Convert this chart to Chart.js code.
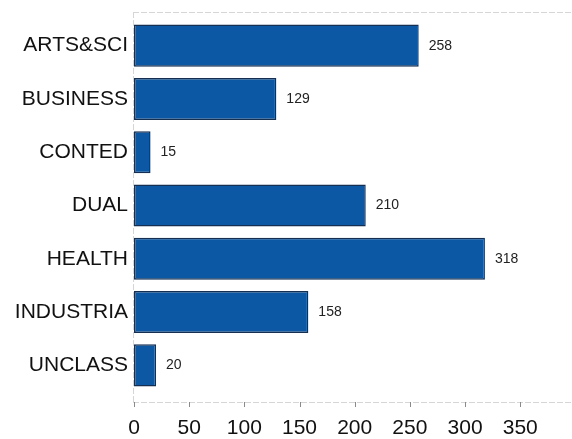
<!DOCTYPE html>
<html lang="en">
<head>
<meta charset="UTF-8">
<title>Enrollment by Division</title>
<script src="https://cdn.jsdelivr.net/npm/chart.js@4"></script>
<style>
    html, body { margin: 0; padding: 0; background: #ffffff; }
    #wrap { width: 572px; height: 439px; position: relative; }
</style>
</head>
<body>
<div id="wrap"><canvas id="divChart"></canvas></div>
<script>
    // data
    const divisions = ['ARTS&SCI', 'BUSINESS', 'CONTED', 'DUAL', 'HEALTH', 'INDUSTRIA', 'UNCLASS'];
    const counts = [258, 129, 15, 210, 318, 158, 20];
    const xTicks = [0, 50, 100, 150, 200, 250, 300, 350];
    const xMax = 396;

    const barBlue = '#0c58a4';
    const barEdge = '#142f52';

    // frame: faint top line, y axis line, bottom axis with short tick marks
    const framePlugin = {
        id: 'frame',
        afterDraw(chart) {
            const ctx = chart.ctx;
            const a = chart.chartArea;
            const xs = chart.scales.x;
            const top = a.top - 7, bottom = a.bottom + 10, left = a.left - 1;
            ctx.save();
            ctx.lineWidth = 1;
            ctx.strokeStyle = '#d6d6d6';
            ctx.setLineDash([6, 2]);
            ctx.beginPath();
            ctx.moveTo(left, top + 0.5); ctx.lineTo(a.right, top + 0.5);
            ctx.moveTo(left + 0.5, top); ctx.lineTo(left + 0.5, bottom);
            ctx.moveTo(left, bottom + 0.5); ctx.lineTo(a.right, bottom + 0.5);
            ctx.stroke();
            ctx.setLineDash([]);
            ctx.strokeStyle = '#8a8a8a';
            ctx.beginPath();
            xTicks.forEach(v => {
                const px = Math.round(xs.getPixelForValue(v)) + 0.5;
                ctx.moveTo(px, bottom); ctx.lineTo(px, bottom + 5);
            });
            ctx.stroke();
            ctx.restore();
        }
    };

    // value labels at the end of each bar
    const valuePlugin = {
        id: 'values',
        afterDatasetsDraw(chart) {
            const ctx = chart.ctx;
            const meta = chart.getDatasetMeta(0);
            ctx.save();
            ctx.font = '14px "Liberation Sans", Arial, sans-serif';
            ctx.fillStyle = '#222222';
            ctx.textAlign = 'left';
            ctx.textBaseline = 'middle';
            meta.data.forEach((bar, i) => {
                ctx.fillText(String(counts[i]), bar.x + 10, bar.y);
            });
            ctx.restore();
        }
    };

    const ctx = document.getElementById('divChart').getContext('2d');
    new Chart(ctx, {
        type: 'bar',
        data: {
            labels: divisions,
            datasets: [{
                data: counts,
                backgroundColor: barBlue,
                borderColor: barEdge,
                borderWidth: 1.5,
                borderSkipped: false,
                categoryPercentage: 1,
                barPercentage: 0.79
            }]
        },
        options: {
            indexAxis: 'y',
            responsive: true,
            maintainAspectRatio: false,
            animation: false,
            layout: { padding: { top: 19, right: 1, left: 0, bottom: 0 } },
            plugins: {
                legend: { display: false },
                tooltip: { enabled: false }
            },
            scales: {
                x: {
                    min: 0,
                    max: xMax,
                    grid: { display: false },
                    border: { display: false },
                    afterBuildTicks(scale) {
                        scale.ticks = xTicks.map(v => ({ value: v }));
                    },
                    afterFit(scale) { scale.height = 47; },
                    ticks: {
                        padding: 16,
                        color: '#111111',
                        maxRotation: 0,
                        font: { family: '"Liberation Sans", Arial, sans-serif', size: 21 }
                    }
                },
                y: {
                    grid: { display: false },
                    border: { display: false },
                    afterFit(scale) { scale.width = 134; },
                    ticks: {
                        padding: -2,
                        color: '#111111',
                        font: { family: '"Liberation Sans", Arial, sans-serif', size: 21 }
                    }
                }
            }
        },
        plugins: [framePlugin, valuePlugin]
    });
</script>
</body>
</html>
